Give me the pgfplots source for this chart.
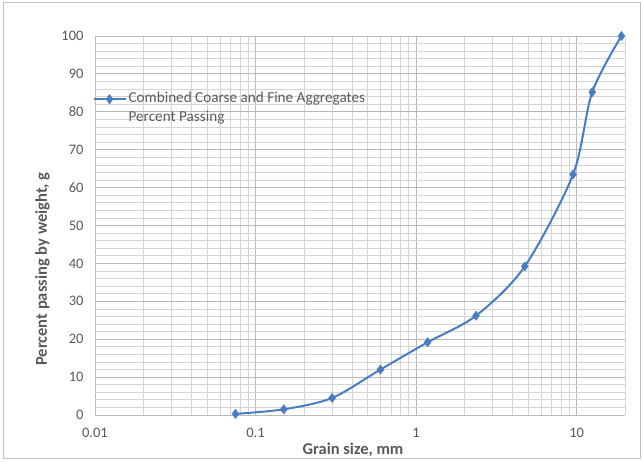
\documentclass[border=0pt]{standalone}
\usepackage{pgfplots}
\pgfplotsset{compat=1.18}
\usepackage{fontspec}
\setmainfont{Carlito}
\definecolor{serblue}{RGB}{74,124,196}
\definecolor{tickgray}{RGB}{89,89,89}
\definecolor{majgrid}{RGB}{185,185,185}
\definecolor{mingrid}{RGB}{212,212,212}
\begin{document}
\begin{tikzpicture}[x=1pt,y=1pt]
\useasboundingbox (0,0) rectangle (643,461);
\draw[color=black!25, line width=1pt] (3,3) rectangle (640,458);
\begin{axis}[
  at={(95pt,46pt)}, anchor=south west,
  scale only axis, width=530pt, height=379pt,
  xmode=log, xmin=0.01, xmax=20, ymin=0, ymax=100,
  xtick={0.01,0.1,1,10}, xticklabels={0.01,0.1,1,10},
  minor xtick={0.02,0.03,0.04,0.05,0.06,0.07,0.08,0.09,0.2,0.3,0.4,0.5,0.6,0.7,0.8,0.9,2,3,4,5,6,7,8,9,20},
  ytick={0,10,...,100},
  minor ytick={2,4,6,8,12,14,16,18,22,24,26,28,32,34,36,38,42,44,46,48,52,54,56,58,62,64,66,68,72,74,76,78,82,84,86,88,92,94,96,98},
  grid=both,
  major grid style={draw=majgrid, line width=0.8pt},
  minor grid style={draw=mingrid, line width=0.7pt},
  axis line style={draw=none},
  major tick length=0pt, minor tick length=0pt,
  tick label style={font=\fontsize{14.5}{17}\selectfont, text=tickgray},
  /pgf/number format/assume math mode=true,
  yticklabel style={xshift=-8pt},
  xticklabel style={yshift=-10pt},
  xlabel={Grain size, mm}, ylabel={Percent passing by weight, g},
  label style={font=\bfseries\fontsize{16.5}{19}\selectfont, text=tickgray},
  xlabel style={yshift=2pt, xshift=-7pt},
  ylabel style={at={(ticklabel cs:0.385)}, yshift=5pt},
  legend style={draw=none, fill=none, at={(-0.005,0.865)}, anchor=north west,
    font=\fontsize{15.2}{19}\selectfont, text=tickgray, inner xsep=0pt, inner ysep=0pt,
    cells={anchor=base west}},
  legend image code/.code={\draw[mark repeat=2,mark phase=2,yshift=3.5pt] plot coordinates {(0pt,0pt) (16pt,0pt) (32pt,0pt)};},
  clip=false,
]
\addplot[serblue, line width=2pt, smooth, tension=0.5, mark=diamond*, mark size=4.6pt,
  mark options={fill=serblue, draw=serblue, line width=0.5pt}]
  coordinates {(0.075,0.3) (0.15,1.5) (0.3,4.5) (0.6,12) (1.18,19.2) (2.36,26.2) (4.75,39.2) (9.5,63.5) (12.5,85.2) (19,100)};
\addlegendentry{\begin{tabular}[t]{@{}l@{}}Combined Coarse and Fine Aggregates\\Percent Passing\end{tabular}}
\end{axis}
\end{tikzpicture}
\end{document}
